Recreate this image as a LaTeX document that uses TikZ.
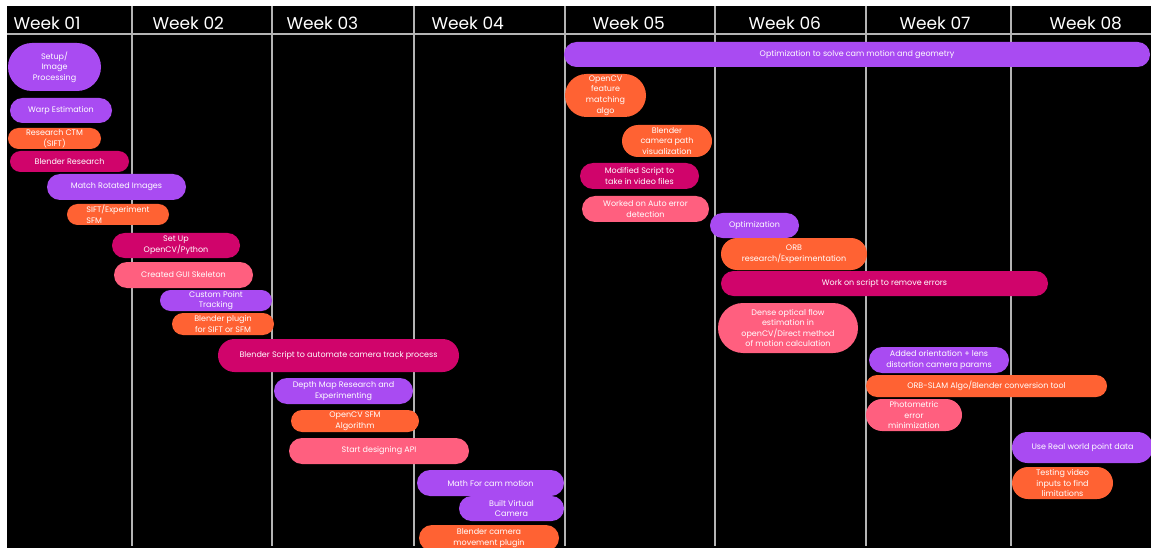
\documentclass[tikz,border=0pt]{standalone}
\usepackage{fontspec}
\setmainfont{Poppins}
\usetikzlibrary{shapes.misc}

\definecolor{barpurple}{HTML}{A94BF2}
\definecolor{barorange}{HTML}{FF6233}
\definecolor{barmagenta}{HTML}{D0046B}
\definecolor{barpink}{HTML}{FF5F7F}
\definecolor{gridgrey}{HTML}{B4B4B4}

\begin{document}
\begin{tikzpicture}[x=1pt, y=-1pt,
		week/.style={anchor=base west, text=white, font=\fontsize{17}{19}\selectfont},
		grid/.style={draw=gridgrey, line width=1.3pt},
		span/.style 2 args={minimum width=#1pt, minimum height=#2pt, xshift=#1pt/2, yshift=-#2pt/2}]

		% style of the bars
		\tikzstyle{bar}=[rounded rectangle, anchor=center, inner sep=0pt, text=white, align=center, font=\fontsize{8}{10.6}\selectfont]
		\tikzstyle{purp}=[bar, fill=barpurple]
		\tikzstyle{orng}=[bar, fill=barorange]
		\tikzstyle{mgnt}=[bar, fill=barmagenta]
		\tikzstyle{pink}=[bar, fill=barpink]

		\clip (0,0) rectangle (1151,548);
		\fill[white] (0,0) rectangle (1151,548);
		\fill[black] (7,6) rectangle (1151,548);

		% week columns
		\draw[grid] (7,34) -- (1151,34);
		\foreach \x in {132,272,414,565,715,866,1011}
			\draw[grid] (\x,6) -- (\x,546);
		\foreach \x/\n in {10/01,149/02,283/03,428/04,589/05,745/06,896/07,1046/08}
			\node[week] (week\n) at (\x,29.5) {Week \n};

		% weeks 01 to 04
		\node[purp, span={93}{48}] (setup) at (8,43) {Setup/\\Image\\Processing};
		\node[purp, span={102}{25}] (warp) at (10,98) {Warp Estimation};
		\node[orng, span={93}{21}] (ctm) at (8,128) {Research CTM\\(SIFT)};
		\node[mgnt, span={119}{21}] (blenderres) at (10,151) {Blender Research};
		\node[purp, span={139}{26}] (rotated) at (47,174) {Match Rotated Images};
		\node[orng, span={102}{21}, align=left] (siftsfm) at (67,204) {SIFT/Experiment\\SFM};
		\node[mgnt, span={128}{25}] (opencv) at (112,233) {Set Up\\OpenCV/Python};
		\node[pink, span={139}{26}] (gui) at (114,262) {Created GUI Skeleton};
		\node[purp, span={112}{21}] (tracking) at (160,290) {Custom Point\\Tracking};
		\node[orng, span={102}{22}] (plugin) at (172,313) {Blender plugin\\for SIFT or SFM};
		\node[mgnt, span={241}{33}] (trackscript) at (218,339) {Blender Script to automate camera track process};
		\node[purp, span={139}{26}] (depthmap) at (274,378) {Depth Map Research and\\Experimenting};
		\node[orng, span={128}{22}] (sfmalgo) at (291,410) {OpenCV SFM\\Algorithm};
		\node[pink, span={180}{26}] (api) at (289,438) {Start designing API};
		\node[purp, span={147}{26}] (cammath) at (417,470) {Math For cam motion};
		\node[purp, span={105}{25}] (virtcam) at (459,496) {Built Virtual\\Camera};
		\node[orng, span={140}{26}] (moveplugin) at (419,525) {Blender camera\\movement plugin};

		% weeks 05 to 08
		\node[purp, span={586}{25}] (solvegeo) at (564,42) {Optimization to solve cam motion and geometry};
		\node[orng, span={81}{43}] (featmatch) at (565,74) {OpenCV\\feature\\matching\\algo};
		\node[orng, span={90}{32}] (campath) at (622,125) {Blender\\camera path\\visualization};
		\node[mgnt, span={119}{26}] (videofiles) at (580,163) {Modified Script to\\take in video files};
		\node[pink, span={127}{26}] (autoerror) at (582,196) {Worked on Auto error\\detection};
		\node[purp, span={89}{25}] (optim) at (710,213) {Optimization};
		\node[orng, span={146}{32}] (orb) at (721,238) {ORB\\research/Experimentation};
		\node[mgnt, span={327}{25}] (removeerr) at (721,271) {Work on script to remove errors};
		\node[pink, span={140}{50}] (denseflow) at (718,303) {Dense optical flow\\estimation in\\openCV/Direct method\\of motion calculation};
		\node[purp, span={140}{26}] (lensparams) at (869,347) {Added orientation + lens\\distortion camera params};
		\node[orng, span={241}{22}] (orbslam) at (866,375) {ORB-SLAM Algo/Blender conversion tool};
		\node[pink, span={96}{32}] (photometric) at (866,399) {Photometric\\error\\minimization};
		\node[purp, span={141}{31}] (realpoints) at (1012,432) {Use Real world point data};
		\node[orng, span={101}{32}] (testvideo) at (1012,467) {Testing video\\inputs to find\\limitations};

\end{tikzpicture}
\end{document}
